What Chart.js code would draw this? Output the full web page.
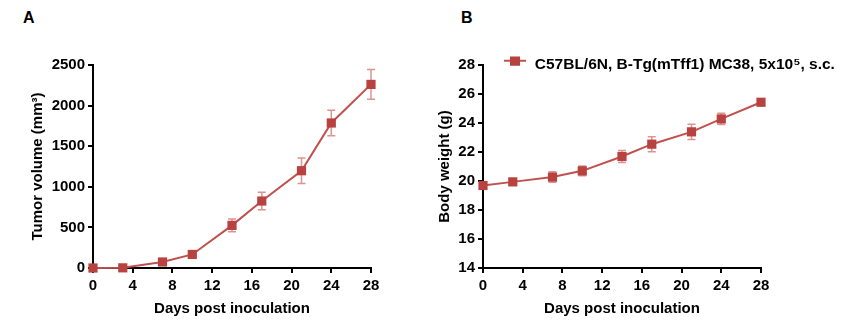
<!DOCTYPE html>
<html><head><meta charset="utf-8">
<script src="https://cdn.jsdelivr.net/npm/chart.js@4.4.1/dist/chart.umd.min.js"></script>
<style>
html,body{margin:0;padding:0;background:#fff;}
body{width:844px;height:323px;position:relative;overflow:hidden;}
.wrap{position:absolute;top:0;width:422px;height:323px;}
.wrap canvas{display:block;}
.lbl{position:absolute;font:bold 16px "Liberation Sans",Arial,sans-serif;line-height:16px;color:#000;}
</style></head><body>
<div class="lbl" style="left:23px;top:10px">A</div>
<div class="lbl" style="left:461px;top:10px">B</div>
<div class="wrap" style="left:0"><canvas id="cA" width="422" height="323"></canvas></div>
<div class="wrap" style="left:422px"><canvas id="cB" width="422" height="323"></canvas></div>
<script>
// ---- data ----
const days = [0, 3, 7, 10, 14, 17, 21, 24, 28];
const tumorVolume = [0, 2, 74, 167, 525, 825, 1198, 1786, 2261];
const tumorSEM = [0, 3, 12, 18, 78, 107, 158, 158, 183];
const bodyWeight = [19.69, 19.94, 20.27, 20.70, 21.69, 22.54, 23.39, 24.28, 25.43];
const weightSEM = [0.2, 0.15, 0.36, 0.34, 0.42, 0.52, 0.53, 0.39, 0.2];
const seriesName = 'C57BL/6N, B-Tg(mTff1) MC38, 5x10\u2075, s.c.';
const xTitle = 'Days post inoculation';
const yTitleA = 'Tumor volume (mm\u00B3)';
const yTitleB = 'Body weight (g)';

// ---- styles ----
const LINE = '#c0504d';
const MARK = '#b7423f';
const ERR = 'rgba(200,90,88,0.65)';
const FONT = '"Liberation Sans", Arial, sans-serif';
const FS = 15;
Chart.defaults.font.family = FONT;
Chart.defaults.font.size = FS;
Chart.defaults.font.weight = 'bold';
Chart.defaults.color = '#000';

const errorBars = {
  id: 'errorBars',
  beforeDatasetsDraw(chart) {
    const {ctx} = chart;
    const xs = chart.scales.x, ys = chart.scales.y;
    chart.data.datasets.forEach(ds => {
      if (!ds.errors) return;
      ctx.save();
      ctx.strokeStyle = ERR;
      ctx.lineWidth = 1.5;
      ds.data.forEach((p, j) => {
        const e = ds.errors[j];
        if (!e) return;
        const px = xs.getPixelForValue(p.x);
        const t = ys.getPixelForValue(p.y + e), b = ys.getPixelForValue(p.y - e);
        ctx.beginPath();
        ctx.moveTo(px, t); ctx.lineTo(px, b);
        ctx.moveTo(px - 4, t); ctx.lineTo(px + 4, t);
        ctx.moveTo(px - 4, b); ctx.lineTo(px + 4, b);
        ctx.stroke();
      });
      ctx.restore();
    });
  }
};

function pts(xs, ys) { return xs.map((d, i) => ({x: d, y: ys[i]})); }

function axisCommon() {
  return {
    grid: {display: true, drawOnChartArea: false, drawTicks: true, tickLength: 5, color: '#000', lineWidth: 2},
    border: {display: true, color: '#000', width: 2},
    ticks: {color: '#000', font: {size: FS, weight: 'bold'}, padding: 4, autoSkip: false, maxRotation: 0,
      format: {useGrouping: false}}
  };
}

function makeOpts(cfg) {
  const xa = axisCommon();
  xa.type = 'linear'; xa.min = 0; xa.max = 28;
  xa.ticks.stepSize = 4;
  xa.title = {display: true, text: xTitle, font: {size: FS, weight: 'bold'}, color: '#000', padding: 0};
  xa.afterFit = s => { s.height = 50; };
  const ya = axisCommon();
  ya.type = 'linear'; ya.min = cfg.ymin; ya.max = cfg.ymax;
  ya.ticks.stepSize = cfg.ystep;
  ya.ticks.padding = 3;
  ya.title = {display: true, text: cfg.ytitle, font: {size: FS, weight: 'bold'}, color: '#000', padding: 0};
  ya.afterFit = s => { s.width = cfg.yw; };
  const scales = {x: xa, y: ya};
  if (cfg.rw) {
    scales.r = {type: 'linear', position: 'right', display: true,
      grid: {display: false}, border: {display: false}, ticks: {display: false},
      afterFit: s => { s.width = cfg.rw; }};
  }
  return {
    responsive: false, animation: false,
    layout: {padding: cfg.pad},
    plugins: {legend: cfg.legend || {display: false}, tooltip: {enabled: false}},
    scales
  };
}

function dataset(vals, errs) {
  return {
    label: seriesName,
    data: pts(days, vals),
    errors: errs,
    borderColor: LINE, borderWidth: 2,
    backgroundColor: MARK,
    pointStyle: 'rect', pointRadius: 6.5, pointBorderWidth: 0,
    pointBackgroundColor: MARK,
    tension: 0, clip: false
  };
}

// Chart A
new Chart(document.getElementById('cA'), {
  type: 'line',
  data: {datasets: [dataset(tumorVolume, tumorSEM)]},
  options: makeOpts({ymin: 0, ymax: 2500, ystep: 500, ytitle: yTitleA, yw: 64,
    pad: {left: 29, top: 65, right: 51, bottom: 5}}),
  plugins: [errorBars]
});

// legend icon (line with square marker), marker raised slightly above the icon centre
const icon = document.createElement('canvas');
icon.width = 22; icon.height = 17;
(function () {
  const c = icon.getContext('2d');
  c.fillStyle = LINE; c.fillRect(0, 4, 22, 2);
  c.fillStyle = MARK; c.fillRect(6, 0, 10, 10);
})();

const legendPlace = {
  id: 'legendPlace',
  afterLayout(chart) {
    const lg = chart.legend;
    if (!lg) return;
    lg.left = 81; lg.top = 56.5;
    lg.right = chart.width; lg.bottom = lg.top + 30;
    lg.width = lg.right - lg.left; lg.height = 30;
  }
};

// Chart B
new Chart(document.getElementById('cB'), {
  type: 'line',
  data: {datasets: [dataset(bodyWeight, weightSEM)]},
  options: makeOpts({ymin: 14, ymax: 28, ystep: 2, ytitle: yTitleB, yw: 47, rw: 83,
    pad: {left: 14, top: 65, right: 0, bottom: 5},
    legend: {display: true, position: 'chartArea', align: 'start',
      labels: {usePointStyle: true, pointStyle: icon, pointStyleWidth: 24, padding: 0,
        color: '#000', font: {size: 15.5, weight: 'bold'}}}}),
  plugins: [errorBars, legendPlace]
});
</script>
</body></html>
